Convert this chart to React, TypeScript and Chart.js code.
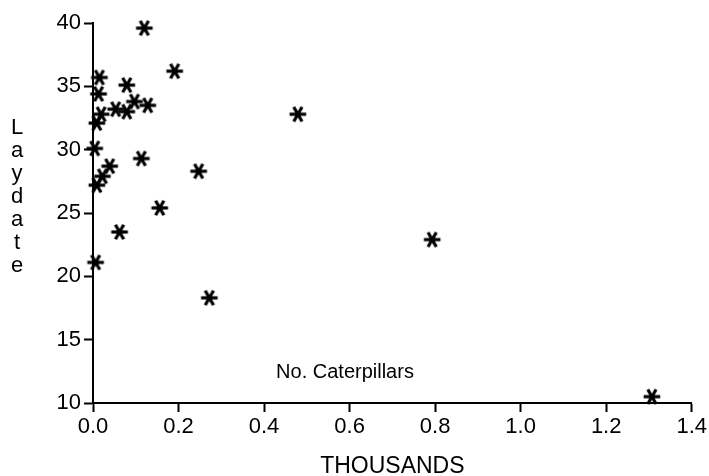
import React, { useEffect, useRef } from 'react';
import { Chart, registerables } from 'chart.js';

Chart.register(...registerables);

const caterpillarsThousands = [
  0.120, 0.191, 0.015, 0.079, 0.013, 0.097, 0.128, 0.053, 0.079, 0.019, 0.009, 0.004,
  0.113, 0.039, 0.022, 0.009, 0.247, 0.156, 0.062, 0.006, 0.272, 0.479, 0.793, 1.307,
];
const laydates = [
  39.6, 36.2, 35.7, 35.1, 34.4, 33.8, 33.5, 33.2, 33.0, 32.8, 32.1, 30.1,
  29.3, 28.7, 27.9, 27.2, 28.3, 25.4, 23.5, 21.1, 18.3, 32.8, 22.9, 10.5,
];
const xTickValues = [0, 0.2, 0.4, 0.6, 0.8, 1.0, 1.2, 1.4];
const yTickValues = [10, 15, 20, 25, 30, 35, 40];
const xTitle = 'THOUSANDS';
const yTitle = 'Laydate';
const seriesLabel = 'No. Caterpillars';

const FONT = '"Liberation Sans", Arial, Helvetica, sans-serif';

function makeAsterisk(): HTMLCanvasElement {
  const size = 20;
  const c = document.createElement('canvas');
  c.width = size;
  c.height = size;
  const ctx = c.getContext('2d')!;
  ctx.strokeStyle = '#000';
  ctx.lineWidth = 3.2;
  ctx.lineCap = 'butt';
  const r = 8.3;
  const cx = size / 2;
  const cy = size / 2;
  [0, 60, 120].forEach((deg) => {
    const a = (deg * Math.PI) / 180;
    ctx.beginPath();
    ctx.moveTo(cx - r * Math.cos(a), cy - r * Math.sin(a));
    ctx.lineTo(cx + r * Math.cos(a), cy + r * Math.sin(a));
    ctx.stroke();
  });
  ctx.fillStyle = '#000';
  ctx.beginPath();
  ctx.arc(cx, cy, 3, 0, Math.PI * 2);
  ctx.fill();
  return c;
}

export default function App() {
  const canvasRef = useRef<HTMLCanvasElement | null>(null);

  useEffect(() => {
    if (!canvasRef.current) return;
    const star = makeAsterisk();
    const chart = new Chart(canvasRef.current, {
      type: 'scatter',
      data: {
        datasets: [
          {
            label: seriesLabel,
            data: caterpillarsThousands.map((x, i) => ({ x, y: laydates[i] })),
            pointStyle: star as any,
            pointRadius: 9,
            pointHoverRadius: 9,
            backgroundColor: '#000',
            borderColor: '#000',
            clip: false as any,
          },
        ],
      },
      options: {
        animation: false,
        responsive: false,
        maintainAspectRatio: false,
        events: [],
        layout: { padding: { top: 23, right: 17, left: 0, bottom: 0 } },
        plugins: {
          legend: { display: false },
          tooltip: { enabled: false },
        },
        scales: {
          x: {
            type: 'linear',
            min: 0,
            max: 1.4,
            afterBuildTicks: (scale: any) => {
              scale.ticks = xTickValues.map((v) => ({ value: v }));
            },
            afterFit: (scale: any) => {
              scale.height = 73;
            },
            ticks: {
              color: '#000',
              font: { family: FONT, size: 22 },
              padding: 2,
              maxRotation: 0,
              autoSkip: false,
              callback: (v: any) => Number(v).toFixed(1),
            },
            grid: {
              display: true,
              drawOnChartArea: false,
              drawTicks: true,
              tickLength: 9,
              tickColor: '#000',
              tickWidth: 2,
            },
            border: { display: true, color: '#000', width: 2 },
            title: {
              display: true,
              text: xTitle,
              color: '#000',
              font: { family: FONT, size: 23, lineHeight: 1 },
              padding: { top: 0, bottom: -2 },
            },
          },
          y: {
            type: 'linear',
            min: 10,
            max: 40,
            afterBuildTicks: (scale: any) => {
              scale.ticks = yTickValues.map((v) => ({ value: v }));
            },
            afterFit: (scale: any) => {
              scale.width = 93;
            },
            ticks: {
              color: '#000',
              font: { family: FONT, size: 22 },
              padding: 3,
              autoSkip: false,
            },
            grid: {
              display: true,
              drawOnChartArea: false,
              drawTicks: true,
              tickLength: 9,
              tickColor: '#000',
              tickWidth: 2,
            },
            border: { display: true, color: '#000', width: 2 },
          },
        },
      },
    });
    return () => chart.destroy();
  }, []);

  return (
    <div
      style={{
        position: 'absolute',
        left: 0,
        top: 0,
        width: 709,
        height: 476,
        background: '#fff',
        fontFamily: FONT,
        color: '#000',
      }}
    >
      <canvas ref={canvasRef} width={709} height={476} style={{ display: 'block' }} />
      <div
        style={{
          position: 'absolute',
          left: 0,
          top: 115,
          width: 34,
          textAlign: 'center',
          fontSize: 22,
          lineHeight: '23px',
        }}
      >
        {yTitle.split('').map((ch, i) => (
          <div key={i}>{ch}</div>
        ))}
      </div>
      <div
        style={{
          position: 'absolute',
          left: 245,
          top: 358,
          width: 200,
          textAlign: 'center',
          fontSize: 20,
          lineHeight: '26px',
          whiteSpace: 'nowrap',
        }}
      >
        {seriesLabel}
      </div>
    </div>
  );
}
